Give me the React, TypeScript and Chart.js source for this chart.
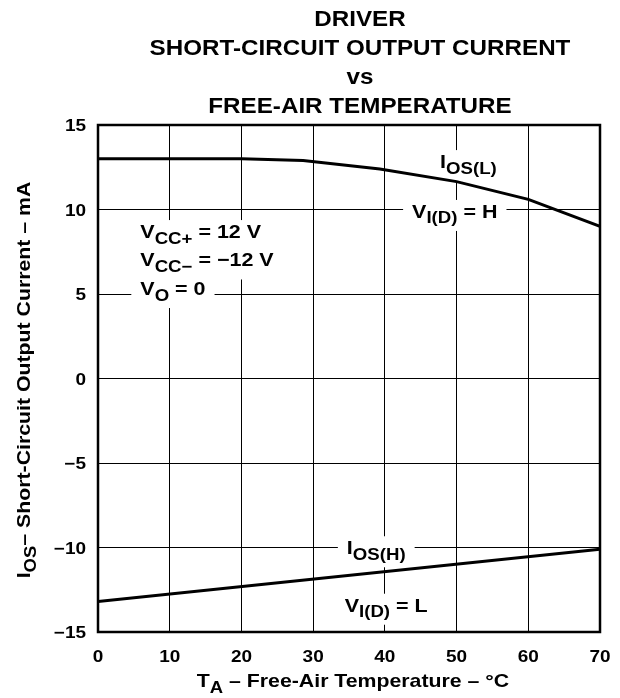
import React, { useEffect, useRef } from 'react';
import { Chart, registerables } from 'chart.js';
Chart.register(...registerables);

// ---- data ----
const iosLTemps = [0, 10, 20, 28.6, 39.3, 50, 60, 70];
const iosLValues = [13.0, 13.0, 13.0, 12.9, 12.4, 11.65, 10.6, 9.0];
const iosHTemps = [0, 70];
const iosHValues = [-13.2, -10.1];
const xTickValues = [0, 10, 20, 30, 40, 50, 60, 70];
const yTickValues = [-15, -10, -5, 0, 5, 10, 15];
const titleLines = ['DRIVER', 'SHORT-CIRCUIT OUTPUT CURRENT', 'vs', 'FREE-AIR TEMPERATURE'];

const FAMILY = '"Liberation Sans", Arial, Helvetica, sans-serif';

type Part = [string, boolean];

function font(size: number) {
  return `bold ${size}px ${FAMILY}`;
}

function measureRich(ctx: CanvasRenderingContext2D, parts: Part[], size: number, subSize: number) {
  let w = 0;
  for (const [t, sub] of parts) {
    ctx.font = font(sub ? subSize : size);
    w += ctx.measureText(t).width;
  }
  return w;
}

// draws stretched rich text; y = baseline; returns drawn width
function drawText(
  ctx: CanvasRenderingContext2D,
  parts: Part[],
  x: number,
  y: number,
  size: number,
  subSize: number,
  shift: number,
  sx: number,
  align: 'left' | 'center' | 'right'
) {
  const w = measureRich(ctx, parts, size, subSize) * sx;
  const start = align === 'left' ? x : align === 'center' ? x - w / 2 : x - w;
  ctx.save();
  ctx.translate(start, y);
  ctx.scale(sx, 1);
  ctx.textAlign = 'left';
  ctx.textBaseline = 'alphabetic';
  let cx = 0;
  for (const [t, sub] of parts) {
    ctx.font = font(sub ? subSize : size);
    ctx.fillText(t, cx, sub ? shift : 0);
    cx += ctx.measureText(t).width;
  }
  ctx.restore();
  return w;
}

const ANN_SIZE = 19;
const ANN_SUB = 16.5;
const ANN_SHIFT = 5.5;
const SX = 1.13;

// annotation labels: left x and baseline y in data units
const labels: { x: number; y: number; parts: Part[] }[] = [
  { x: 47.7, y: 12.45, parts: [['I', false], ['OS(L)', true]] },
  { x: 43.8, y: 9.5, parts: [['V', false], ['I(D)', true], [' = H', false]] },
  { x: 5.9, y: 8.31, parts: [['V', false], ['CC+', true], [' = 12 V', false]] },
  { x: 5.9, y: 6.63, parts: [['V', false], ['CC\u2212', true], [' = \u221212 V', false]] },
  { x: 5.9, y: 4.94, parts: [['V', false], ['O', true], [' = 0', false]] },
  { x: 34.7, y: -10.4, parts: [['I', false], ['OS(H)', true]] },
  { x: 34.4, y: -13.8, parts: [['V', false], ['I(D)', true], [' = L', false]] },
];

const overlay = {
  id: 'overlay',
  beforeDatasetsDraw(chart: any) {
    const ctx: CanvasRenderingContext2D = chart.ctx;
    const xs = chart.scales.x;
    const ys = chart.scales.y;
    ctx.save();
    for (const l of labels) {
      const px = xs.getPixelForValue(l.x);
      const py = ys.getPixelForValue(l.y);
      const w = measureRich(ctx, l.parts, ANN_SIZE, ANN_SUB) * SX;
      ctx.fillStyle = '#fff';
      ctx.fillRect(px - 9, py - 18, w + 18, 31);
    }
    ctx.fillStyle = '#000';
    for (const l of labels) {
      const px = xs.getPixelForValue(l.x);
      const py = ys.getPixelForValue(l.y);
      drawText(ctx, l.parts, px, py, ANN_SIZE, ANN_SUB, ANN_SHIFT, SX, 'left');
    }
    ctx.restore();
  },
  afterDraw(chart: any) {
    const ctx: CanvasRenderingContext2D = chart.ctx;
    const a = chart.chartArea;
    const xs = chart.scales.x;
    const ys = chart.scales.y;
    ctx.save();
    ctx.strokeStyle = '#000';
    ctx.lineWidth = 2.5;
    ctx.strokeRect(a.left, a.top, a.right - a.left, a.bottom - a.top);

    ctx.fillStyle = '#000';
    // tick labels from the scales' ticks
    for (const t of xs.ticks) {
      const px = xs.getPixelForValue(t.value);
      drawText(ctx, [[String(t.value), false]], px, a.bottom + 30, 16.5, 14, 0, 1.15, 'center');
    }
    for (const t of ys.ticks) {
      const py = ys.getPixelForValue(t.value);
      const s = String(t.value).replace('-', '\u2212');
      drawText(ctx, [[s, false]], a.left - 12, py + 6, 16.5, 14, 0, 1.15, 'right');
    }

    // title
    titleLines.forEach((t, i) => {
      drawText(ctx, [[t, false]], 360, 26 + i * 29, 22, 18, 0, 1.1, 'center');
    });

    // x axis title
    const xParts: Part[] = [['T', false], ['A', true], [' \u2013 Free-Air Temperature \u2013 \u00B0C', false]];
    drawText(ctx, xParts, 353, 687, 19, 16.5, 5.5, 1.12, 'center');

    // y axis title
    const yParts: Part[] = [['I', false], ['OS', true], ['\u2013 Short-Circuit Output Current \u2013 mA', false]];
    ctx.translate(30, 380);
    ctx.rotate(-Math.PI / 2);
    drawText(ctx, yParts, 0, 0, 19, 16.5, 5.5, 1.12, 'center');
    ctx.restore();
  },
};

export default function App() {
  const ref = useRef<HTMLCanvasElement | null>(null);
  useEffect(() => {
    if (!ref.current) return;
    const chart = new Chart(ref.current, {
      type: 'line',
      data: {
        datasets: [
          {
            label: 'IOS(L)',
            data: iosLTemps.map((t, i) => ({ x: t, y: iosLValues[i] })),
            borderColor: '#000',
            borderWidth: 3,
            pointRadius: 0,
            tension: 0,
            fill: false,
          },
          {
            label: 'IOS(H)',
            data: iosHTemps.map((t, i) => ({ x: t, y: iosHValues[i] })),
            borderColor: '#000',
            borderWidth: 3,
            pointRadius: 0,
            tension: 0,
            fill: false,
          },
        ],
      },
      options: {
        animation: false,
        responsive: false,
        maintainAspectRatio: false,
        layout: { padding: { top: 125, right: 20, left: 0, bottom: 0 } },
        plugins: { legend: { display: false }, tooltip: { enabled: false }, title: { display: false } },
        scales: {
          x: {
            type: 'linear',
            min: 0,
            max: 70,
            afterBuildTicks: (s: any) => {
              s.ticks = xTickValues.map((v) => ({ value: v }));
            },
            afterFit: (s: any) => {
              s.height = 66;
            },
            grid: { color: '#000', lineWidth: 1, drawTicks: false },
            border: { display: false },
            ticks: { display: false },
          },
          y: {
            type: 'linear',
            min: -15,
            max: 15,
            afterBuildTicks: (s: any) => {
              s.ticks = yTickValues.map((v) => ({ value: v }));
            },
            afterFit: (s: any) => {
              s.width = 98;
            },
            grid: { color: '#000', lineWidth: 1, drawTicks: false },
            border: { display: false },
            ticks: { display: false },
          },
        },
      },
      plugins: [overlay],
    });
    return () => chart.destroy();
  }, []);
  return (
    <div style={{ position: 'absolute', left: 0, top: 0, width: 620, height: 698, background: '#fff' }}>
      <canvas ref={ref} width={620} height={698} style={{ width: 620, height: 698 }} />
    </div>
  );
}
